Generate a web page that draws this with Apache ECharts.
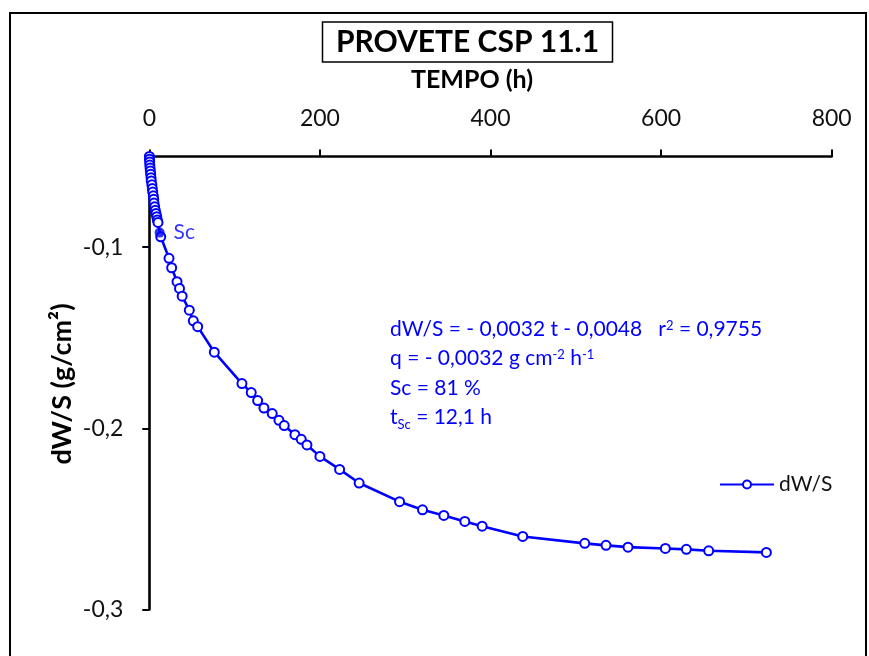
<!DOCTYPE html>
<html><head><meta charset="utf-8">
<script src="https://cdn.jsdelivr.net/npm/echarts@6/dist/echarts.min.js"></script>
<style>html,body{margin:0;padding:0;background:#fff}#c{width:869px;height:656px}</style>
</head><body><div id="c"></div>
<script>
const tempo = [0.1,0.2,0.4,0.6,0.9,1.2,1.6,2.0,2.3,3.0,3.5,4.0,4.7,5.2,5.5,6.3,7.0,7.8,8.7,9.4,10.2,13.4,23.1,26.2,32.5,35.4,38.5,46.9,51.6,56.7,76.2,108.6,119.5,127.0,134.4,144.1,152.0,158.2,170.7,178.1,184.8,200.0,223.1,246.0,293.4,320.3,345.3,369.9,390.2,437.8,510.5,535.4,561.2,605.0,629.6,655.8,723.4];
const dws = [-0.0500,-0.0515,-0.0530,-0.0547,-0.0564,-0.0580,-0.0598,-0.0617,-0.0635,-0.0656,-0.0676,-0.0696,-0.0717,-0.0736,-0.0757,-0.0777,-0.0797,-0.0814,-0.0832,-0.0851,-0.0864,-0.0943,-0.1062,-0.1114,-0.1191,-0.1228,-0.1271,-0.1348,-0.1407,-0.1439,-0.1580,-0.1753,-0.1803,-0.1847,-0.1888,-0.1919,-0.1956,-0.1985,-0.2035,-0.2061,-0.2092,-0.2155,-0.2227,-0.2302,-0.2405,-0.2450,-0.2481,-0.2514,-0.2540,-0.2597,-0.2635,-0.2646,-0.2656,-0.2663,-0.2668,-0.2676,-0.2685];
const scPoint = [12.1, -0.092];
const xTicks = [0, 200, 400, 600, 800];
const yTicks = [-0.3, -0.2, -0.1];

const FONT = 'Lato';
const BLUE = '#0000ff';
const chart = echarts.init(document.getElementById('c'));
const richBase = {
  n:{fontSize:21, fontFamily:FONT, color:BLUE, lineHeight:28, verticalAlign:'middle'},
  sup:{fontSize:13, fontFamily:FONT, color:BLUE, lineHeight:28, verticalAlign:'top', padding:[4,0,0,0]},
  sub:{fontSize:13, fontFamily:FONT, color:BLUE, lineHeight:28, verticalAlign:'bottom'}
};
const rt = (s, x, y) => ({type:'text', x:x, y:y, style:{text:s, rich:richBase, textVerticalAlign:'middle', fill:BLUE, font:'21px '+FONT}});

chart.setOption({
  animation:false,
  backgroundColor:'#fff',
  grid:{left:149.3, right:37.3, top:156.5, bottom:46.5, containLabel:false},
  xAxis:{type:'value', position:'top', min:0, max:800, interval:200,
    axisLine:{show:true, onZero:false, lineStyle:{color:'#000', width:2.6}},
    axisTick:{show:true, inside:false, length:7, lineStyle:{color:'#000', width:2}, customValues:xTicks},
    axisLabel:{color:'#111', fontFamily:FONT, fontSize:23, margin:26, customValues:xTicks},
    splitLine:{show:false}},
  yAxis:{type:'value', min:-0.3, max:-0.05, interval:0.1,
    axisLine:{show:true, onZero:false, lineStyle:{color:'#000', width:2.6}},
    axisTick:{show:true, inside:false, length:7, lineStyle:{color:'#000', width:2}, customValues:yTicks},
    axisLabel:{color:'#111', fontFamily:FONT, fontSize:23, margin:26, customValues:yTicks,
      formatter:v => v.toFixed(1).replace('.', ',')},
    splitLine:{show:false}},
  legend:{data:['dW/S'], left:714, top:469, itemWidth:54, itemHeight:10, itemGap:3,
    textStyle:{fontFamily:FONT, fontSize:21, color:'#111'}},
  series:[
    {name:'dW/S', type:'line', data:tempo.map((t,i)=>[t,dws[i]]), clip:false,
     symbol:'circle', symbolSize:9, showAllSymbol:true,
     lineStyle:{color:BLUE, width:2.6},
     itemStyle:{color:'#fff', borderColor:BLUE, borderWidth:2}, z:3},
    {name:'Sc', type:'scatter', data:[scPoint], symbol:'circle', symbolSize:10,
     itemStyle:{color:BLUE}, z:4,
     label:{show:true, position:'right', distance:9, formatter:'Sc', color:BLUE, fontFamily:FONT, fontSize:21}}
  ],
  graphic:[
    {type:'rect', shape:{x:10, y:13, width:856, height:720}, style:{fill:'none', stroke:'#000', lineWidth:2}, silent:true},
    {type:'rect', shape:{x:322.5, y:22, width:290, height:40}, style:{fill:'#fff', stroke:'#000', lineWidth:1.5}},
    {type:'text', x:467.5, y:42, style:{text:'PROVETE CSP 11.1', font:'bold 30px '+FONT, fill:'#000', textAlign:'center', textVerticalAlign:'middle'}},
    {type:'text', x:472, y:80, style:{text:'TEMPO (h)', font:'bold 25px '+FONT, fill:'#000', textAlign:'center', textVerticalAlign:'middle'}},
    {type:'text', x:62, y:384, rotation:Math.PI/2, style:{text:'dW/S (g/cm²)', font:'bold 27px '+FONT, fill:'#000', textAlign:'center', textVerticalAlign:'middle'}},
    rt('{n|dW/S = - 0,0032 t - 0,0048   r}{sup|2}{n| = 0,9755}', 390, 329),
    rt('{n|q = - 0,0032 g cm}{sup|-2}{n| h}{sup|-1}', 390, 358),
    rt('{n|Sc = 81 %}', 390, 388),
    rt('{n|t}{sub|Sc}{n| = 12,1 h}', 390, 417)
  ]
});
</script></body></html>
